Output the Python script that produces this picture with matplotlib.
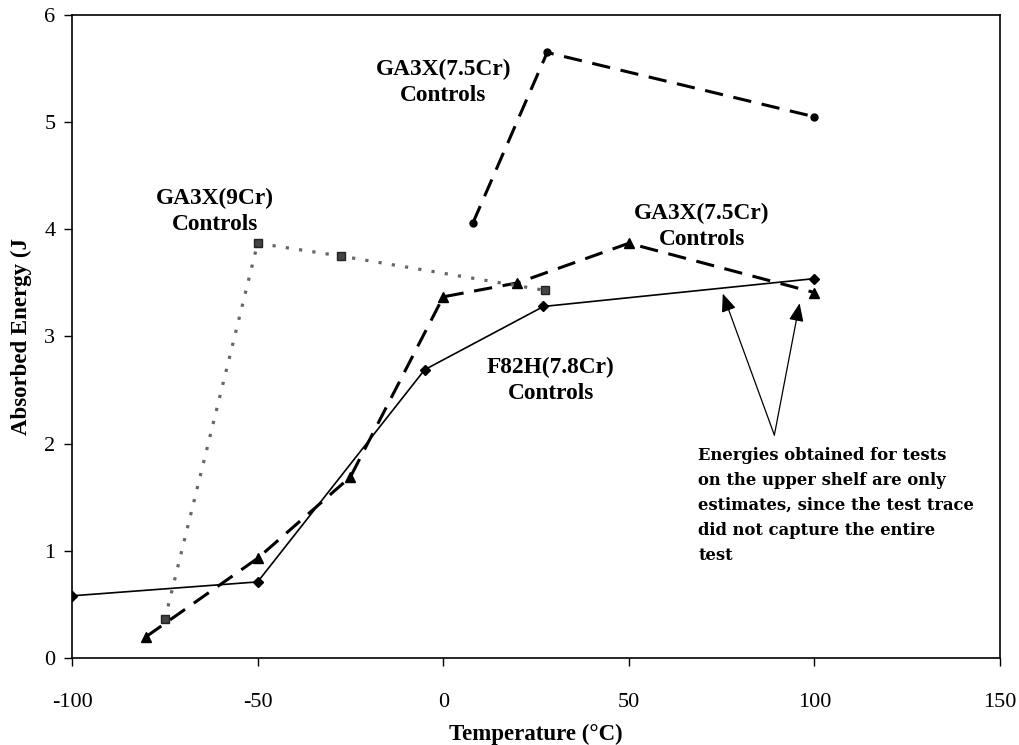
import matplotlib
matplotlib.use("Agg")
import matplotlib.pyplot as plt

plt.rcParams["axes.unicode_minus"] = False

# Charpy absorbed energy vs test temperature, control specimens
f82h_t = [-100, -50, -5, 27, 100]
f82h_e = [0.58, 0.71, 2.69, 3.28, 3.54]

ga3x75_t = [-80, -50, -25, 0, 20, 50, 100]
ga3x75_e = [0.20, 0.93, 1.69, 3.37, 3.50, 3.87, 3.41]

ga3x75b_t = [8, 28, 100]
ga3x75b_e = [4.06, 5.65, 5.05]

ga3x9_t = [-75, -50, -27.5, 27.5]
ga3x9_e = [0.36, 3.87, 3.75, 3.43]

note = ("Energies obtained for tests\n"
        "on the upper shelf are only\n"
        "estimates, since the test trace\n"
        "did not capture the entire\n"
        "test")

SERIF = "Liberation Serif"

fig = plt.figure(figsize=(10.19, 7.45), dpi=100)
ax = fig.add_axes([0.0707, 0.1168, 0.9107, 0.8631])

ax.plot(f82h_t, f82h_e, "-", color="black", lw=1.2,
        marker="D", ms=5, mfc="black", mec="black")
ax.plot(ga3x75_t, ga3x75_e, color="black", lw=2.2, dashes=(6, 3.5),
        marker="^", ms=7, mfc="black", mec="black")
ax.plot(ga3x75b_t, ga3x75b_e, color="black", lw=2.2, dashes=(6, 3.5),
        marker="o", ms=5, mfc="black", mec="black")
ax.plot(ga3x9_t, ga3x9_e, color="#666666", lw=2.3, dashes=(1.0, 3.2),
        marker="s", ms=5.5, mfc="#444444", mec="#222222")

lbl = dict(fontfamily=SERIF, fontweight="bold", fontsize=16.8,
           ha="center", va="center", linespacing=1.3)
ax.text(0, 5.37, "GA3X(7.5Cr)\nControls", **lbl)
ax.text(-61.5, 4.17, "GA3X(9Cr)\nControls", **lbl)
ax.text(69.6, 4.03, "GA3X(7.5Cr)\nControls", **lbl)
ax.text(29, 2.59, "F82H(7.8Cr)\nControls", **lbl)

ax.text(68.7, 1.97, note, fontfamily="DejaVu Serif", fontweight="bold",
        fontsize=11.8, ha="left", va="top", linespacing=1.62)

arrow = dict(arrowstyle="-|>,head_length=1.1,head_width=0.45",
             color="black", lw=0.9, shrinkA=0, shrinkB=0)
ax.annotate("", xy=(75.3, 3.40), xytext=(89.2, 2.08), arrowprops=arrow)
ax.annotate("", xy=(96.0, 3.31), xytext=(89.2, 2.08), arrowprops=arrow)

ax.set_xlim(-100, 150)
ax.set_ylim(0, 6)
ax.set_xticks(range(-100, 151, 50))
ax.set_yticks(range(0, 7))
ax.tick_params(direction="out", length=6, width=1, labelsize=16)
ax.tick_params(axis="x", pad=19)
ax.tick_params(axis="y", pad=6)
for t in ax.get_xticklabels() + ax.get_yticklabels():
    t.set_fontfamily(SERIF)
for s in ax.spines.values():
    s.set_linewidth(1.2)

ax.set_xlabel("Temperature (°C)", fontfamily=SERIF, fontweight="bold",
              fontsize=16.5, labelpad=9)
ax.set_ylabel("Absorbed Energy (J", fontfamily=SERIF, fontweight="bold",
              fontsize=16.5, labelpad=9)

fig.savefig("out.png", dpi=100)
